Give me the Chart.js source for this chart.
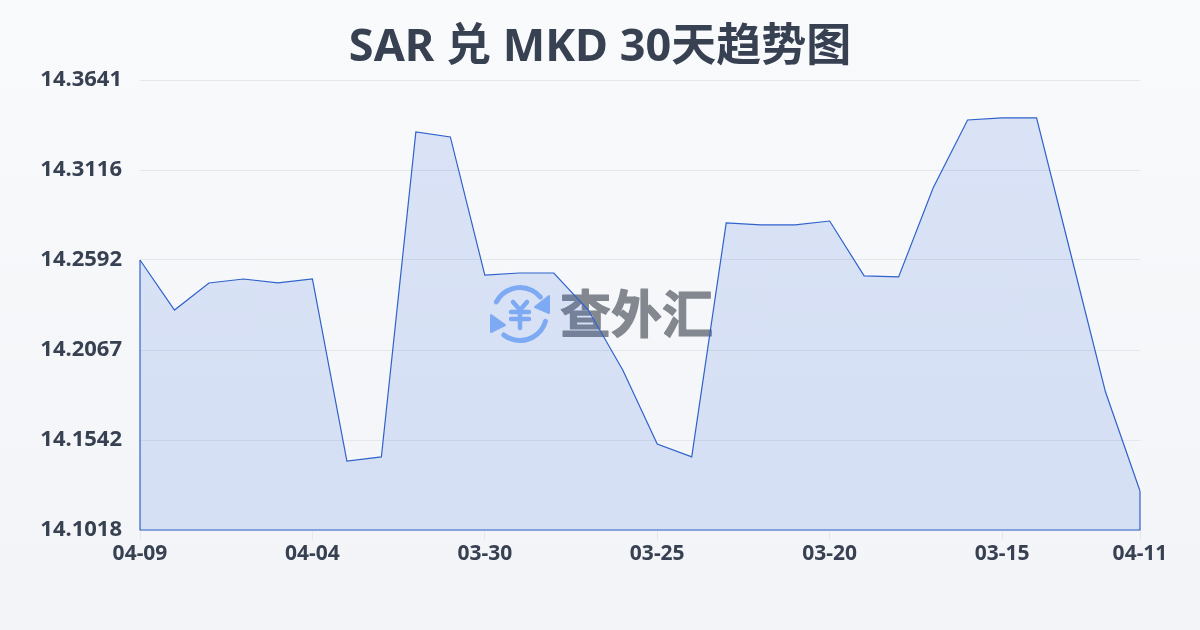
<!DOCTYPE html>
<html>
<head>
<meta charset="utf-8">
<title>SAR 兑 MKD 30天趋势图</title>
<script src="https://cdn.jsdelivr.net/npm/chart.js@4/dist/chart.umd.min.js"></script>
<style>
  html, body { margin: 0; padding: 0; width: 1200px; height: 630px; overflow: hidden; }
  body { background: linear-gradient(180deg, #f9fafc 0%, #f2f4f7 100%); }
  canvas { display: block; }
</style>
</head>
<body>
<canvas id="myChart" width="1200" height="630"></canvas>
<script>
const chartTitle = 'SAR 兑 MKD 30天趋势图';
const watermarkText = '查外汇';

const dates = ['04-09','04-08','04-07','04-06','04-05','04-04','04-03','04-02','04-01','03-31',
  '03-30','03-29','03-28','03-27','03-26','03-25','03-24','03-23','03-22','03-21',
  '03-20','03-19','03-18','03-17','03-16','03-15','03-14','03-13','03-12','04-11'];
const rates = [14.2592,14.2300,14.2458,14.2481,14.2458,14.2481,14.1420,14.1444,14.3338,14.3309,
  14.2504,14.2516,14.2516,14.2300,14.1951,14.1519,14.1444,14.2808,14.2796,14.2796,
  14.2819,14.2499,14.2493,14.3012,14.3408,14.3420,14.3420,14.2621,14.1822,14.1245];
const yTickValues = [14.1018,14.1542,14.2067,14.2592,14.3116,14.3641];
const xTickIndexes = [0, 5, 10, 15, 20, 25, 29];

const LINE_BLUE = '#2f62cb';
const TEXT_DARK = '#374151';
const FONT = '"Noto Sans", "Noto Sans CJK SC", sans-serif';

// logo and name behind the area
const watermark = {
  id: 'watermark',
  beforeDatasetsDraw(chart) {
    const ctx = chart.ctx;
    const cx = 520, cy = 314, r = 26.5;
    ctx.save();
    ctx.strokeStyle = '#8db7f7';
    ctx.fillStyle = '#8db7f7';
    ctx.lineWidth = 5;
    ctx.lineCap = 'round';
    ctx.lineJoin = 'round';
    ctx.beginPath();
    ctx.arc(cx, cy, r, Math.PI * 1.15, Math.PI * 1.78);
    ctx.stroke();
    ctx.beginPath();
    ctx.arc(cx, cy, r, Math.PI * 0.09, Math.PI * 0.71);
    ctx.stroke();
    ctx.lineWidth = 2;
    ctx.beginPath();
    ctx.moveTo(cx + 29, cy - 18); ctx.lineTo(cx + 29, cy - 1); ctx.lineTo(cx + 15, cy - 7);
    ctx.closePath();
    ctx.fill();
    ctx.stroke();
    ctx.beginPath();
    ctx.moveTo(cx - 29, cy + 1); ctx.lineTo(cx - 29, cy + 18); ctx.lineTo(cx - 15, cy + 11);
    ctx.closePath();
    ctx.fill();
    ctx.stroke();
    // yen sign of the logo
    ctx.lineWidth = 4.5;
    ctx.beginPath();
    ctx.moveTo(cx - 7, cy - 12); ctx.lineTo(cx, cy - 4); ctx.lineTo(cx + 7, cy - 12);
    ctx.moveTo(cx - 9, cy - 2); ctx.lineTo(cx + 9, cy - 2);
    ctx.moveTo(cx - 9, cy + 5); ctx.lineTo(cx + 9, cy + 5);
    ctx.moveTo(cx, cy - 4); ctx.lineTo(cx, cy + 14);
    ctx.stroke();
    ctx.fillStyle = '#83878f';
    ctx.strokeStyle = '#83878f';
    ctx.lineWidth = 1.2;
    ctx.font = 'bold 51px ' + FONT;
    ctx.textAlign = 'left';
    ctx.textBaseline = 'middle';
    ctx.fillText(watermarkText, 560, cy + 4);
    ctx.strokeText(watermarkText, 560, cy + 4);
    ctx.restore();
  }
};

// the line also runs down both sides and along the bottom
const areaOutline = {
  id: 'areaOutline',
  afterDatasetsDraw(chart) {
    const pts = chart.getDatasetMeta(0).data;
    const first = pts[0], last = pts[pts.length - 1];
    const base = chart.scales.y.bottom;
    const ctx = chart.ctx;
    ctx.save();
    ctx.strokeStyle = LINE_BLUE;
    ctx.lineWidth = 1.2;
    ctx.beginPath();
    ctx.moveTo(first.x, first.y);
    ctx.lineTo(first.x, base);
    ctx.lineTo(last.x, base);
    ctx.lineTo(last.x, last.y);
    ctx.stroke();
    ctx.restore();
  }
};

const data = {
  labels: dates,
  datasets: [{
    data: rates,
    borderColor: LINE_BLUE,
    borderWidth: 1.2,
    backgroundColor: 'rgba(37, 90, 220, 0.14)',
    fill: 'start',
    tension: 0,
    pointRadius: 0
  }]
};

const config = {
  type: 'line',
  data: data,
  plugins: [watermark, areaOutline],
  options: {
    responsive: false,
    animation: false,
    devicePixelRatio: 1,
    plugins: {
      legend: { display: false },
      tooltip: { enabled: false },
      title: {
        display: true,
        text: chartTitle,
        color: TEXT_DARK,
        font: { family: FONT, size: 45, weight: 'bold', lineHeight: 1.2 },
        padding: { top: 21, bottom: 5 }
      }
    },
    scales: {
      x: {
        border: { display: false },
        grid: { drawOnChartArea: false, drawTicks: true, tickLength: 10, color: '#e5e7eb' },
        ticks: {
          autoSkip: false,
          maxRotation: 0,
          color: TEXT_DARK,
          padding: 1,
          font: { family: FONT, size: 21, weight: 'bold' }
        },
        afterBuildTicks(axis) {
          axis.ticks = axis.ticks.filter(function (t) { return xTickIndexes.includes(t.value); });
        },
        afterFit(axis) { axis.height = 100; }
      },
      y: {
        min: yTickValues[0],
        max: yTickValues[yTickValues.length - 1],
        border: { display: false },
        grid: { color: '#e5e7eb', drawTicks: false },
        ticks: {
          color: TEXT_DARK,
          padding: 18,
          font: { family: FONT, size: 22, weight: 'bold' },
          callback: function (v) { return v.toFixed(4); }
        },
        afterBuildTicks(axis) {
          axis.ticks = yTickValues.map(function (v) { return { value: v }; });
        },
        afterFit(axis) { axis.width = 140; }
      },
      // empty axis, keeps the margin on the right so the title stays centred
      rightGap: {
        position: 'right',
        border: { display: false },
        grid: { display: false },
        ticks: { display: false },
        afterFit(axis) { axis.width = 60; }
      }
    }
  }
};

const myChart = new Chart(document.getElementById('myChart'), config);
</script>
</body>
</html>
